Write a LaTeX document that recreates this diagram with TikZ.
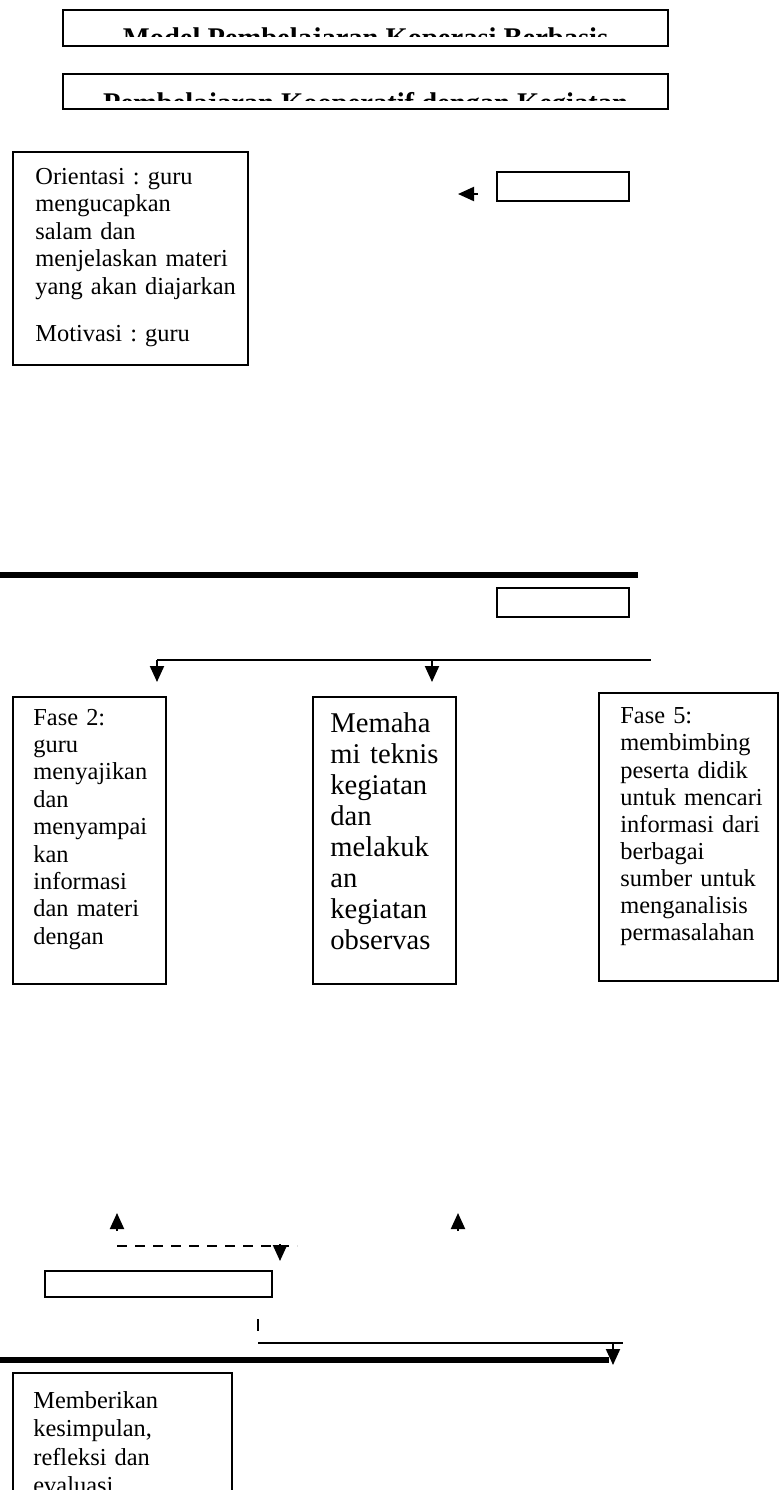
\documentclass[tikz,border=0pt]{standalone}
\usepackage{fontspec}
\setmainfont{Liberation Serif}
\usetikzlibrary{arrows.meta}
\frenchspacing

\begin{document}
\begin{tikzpicture}[x=0.5pt, y=-0.5pt, box/.style={rectangle, draw=black, line width=0.75pt, inner sep=0pt}, teks/.style={anchor=north west, inner sep=0pt, align=left, text width=150pt, font=\fontsize{12.2}{13.7}\selectfont}, judul/.style={anchor=north, inner sep=0pt, font=\bfseries\fontsize{14.25}{16}\selectfont}, panah/.style={-{Triangle[width=7pt,length=8pt]}, line width=1pt}, tebal/.style={line width=3pt}]
			\useasboundingbox (0,0) rectangle (780,1490);
			
			\node[box, minimum width=302.5pt, minimum height=18pt] (judulA) at (365.5,28){};
			\node[box, minimum width=302.5pt, minimum height=17.5pt] (judulB) at (365.5,91.5){};
			\begin{scope}
			\clip (63,10) rectangle (668,36);
			\node[judul] (judulAtext) at (365.5,27.5){Model Pembelajaran Koperasi Berbasis};
			\end{scope}
			\begin{scope}
			\clip (63,74) rectangle (668,100);
			\node[judul] (judulBtext) at (365.5,92.5){Pembelajaran Kooperatif dengan Kegiatan};
			\end{scope}
			
			\node[box, minimum width=117.5pt, minimum height=106.5pt] (orient) at (130.5,258.5){};
			\node[teks] (orienttext) at (35,168){Orientasi : guru\\ mengucapkan\\ salam dan\\ menjelaskan materi\\ yang akan diajarkan\\[9.75pt] Motivasi : guru};
			\node[box, minimum width=66pt, minimum height=14.5pt] (awal) at (563,186.5){};
			\coordinate (awalkiri) at (478,194);
			\coordinate (awalujung) at (458,194);
			\draw[panah] (awalkiri) -- (awalujung);
			
			\coordinate (garisAkiri) at (0,575);
			\coordinate (garisAkanan) at (638,575);
			\draw[tebal] (garisAkiri) -- (garisAkanan);
			\node[box, minimum width=66pt, minimum height=14.5pt] (inti) at (563,602.5){};
			
			\coordinate (cabangkiri) at (157,660);
			\coordinate (cabangtengah) at (432,660);
			\coordinate (cabangkanan) at (651,660);
			\coordinate (ujungkiri) at (157,682);
			\coordinate (ujungtengah) at (432,682);
			\draw[line width=1.3pt] (cabangkiri) -- (cabangkanan);
			\draw[panah] (cabangkiri) -- (ujungkiri);
			\draw[panah] (cabangtengah) -- (ujungtengah);
			
			\node[box, minimum width=76.5pt, minimum height=143.5pt] (fasedua) at (89.5,840.5){};
			\node[teks] (faseduatext) at (33,708.5){Fase 2:\\ guru\\ menyajikan\\ dan\\ menyampai\\ kan\\ informasi\\ dan materi\\ dengan};
			\node[box, minimum width=71.5pt, minimum height=143.5pt] (memahami) at (384.5,840.5){};
			\node[teks, font=\fontsize{14.3}{15.5}\selectfont] (memahamitext) at (330,712){Memaha\\ mi teknis\\ kegiatan\\ dan\\ melakuk\\ an\\ kegiatan\\ observas};
			\node[box, minimum width=89.5pt, minimum height=144pt] (faselima) at (688.5,837){};
			\node[teks, font=\fontsize{12.2}{13.55}\selectfont] (faselimatext) at (620,707.5){Fase 5:\\ membimbing\\ peserta didik\\ untuk mencari\\ informasi dari\\ berbagai\\ sumber untuk\\ menganalisis\\ permasalahan};
			
			\coordinate (naikAbawah) at (117,1231);
			\coordinate (naikAatas) at (117,1213);
			\coordinate (naikBbawah) at (458,1231);
			\coordinate (naikBatas) at (458,1213);
			\draw[panah] (naikAbawah) -- (naikAatas);
			\draw[panah] (naikBbawah) -- (naikBatas);
			\coordinate (putuskiri) at (117,1246);
			\coordinate (putuskanan) at (297,1246);
			\coordinate (putusturun) at (280,1244);
			\coordinate (putusujung) at (280,1261);
			\draw[line width=1.3pt, dash pattern=on 5pt off 4pt] (putuskiri) -- (putuskanan);
			\draw[panah] (putusturun) -- (putusujung);
			\node[box, minimum width=113.5pt, minimum height=13pt] (penutup) at (158.5,1284){};
			
			\coordinate (tikatas) at (258,1319);
			\coordinate (tikbawah) at (258,1331);
			\draw[line width=0.75pt] (tikatas) -- (tikbawah);
			\coordinate (tipiskiri) at (258,1343);
			\coordinate (tipiskanan) at (623,1343);
			\draw[line width=0.6pt] (tipiskiri) -- (tipiskanan);
			\coordinate (turunatas) at (613,1343);
			\coordinate (turunujung) at (613,1365);
			\draw[panah] (turunatas) -- (turunujung);
			\coordinate (garisBkiri) at (0,1360);
			\coordinate (garisBkanan) at (609,1360);
			\draw[tebal] (garisBkiri) -- (garisBkanan);
			
			\node[box, minimum width=109.5pt, minimum height=68.5pt] (akhir) at (122.5,1441.5){};
			\node[teks, font=\fontsize{12.2}{14.25}\selectfont] (akhirtext) at (33,1391){Memberikan\\ kesimpulan,\\ refleksi dan\\ evaluasi};
			\end{tikzpicture}
\end{document}
